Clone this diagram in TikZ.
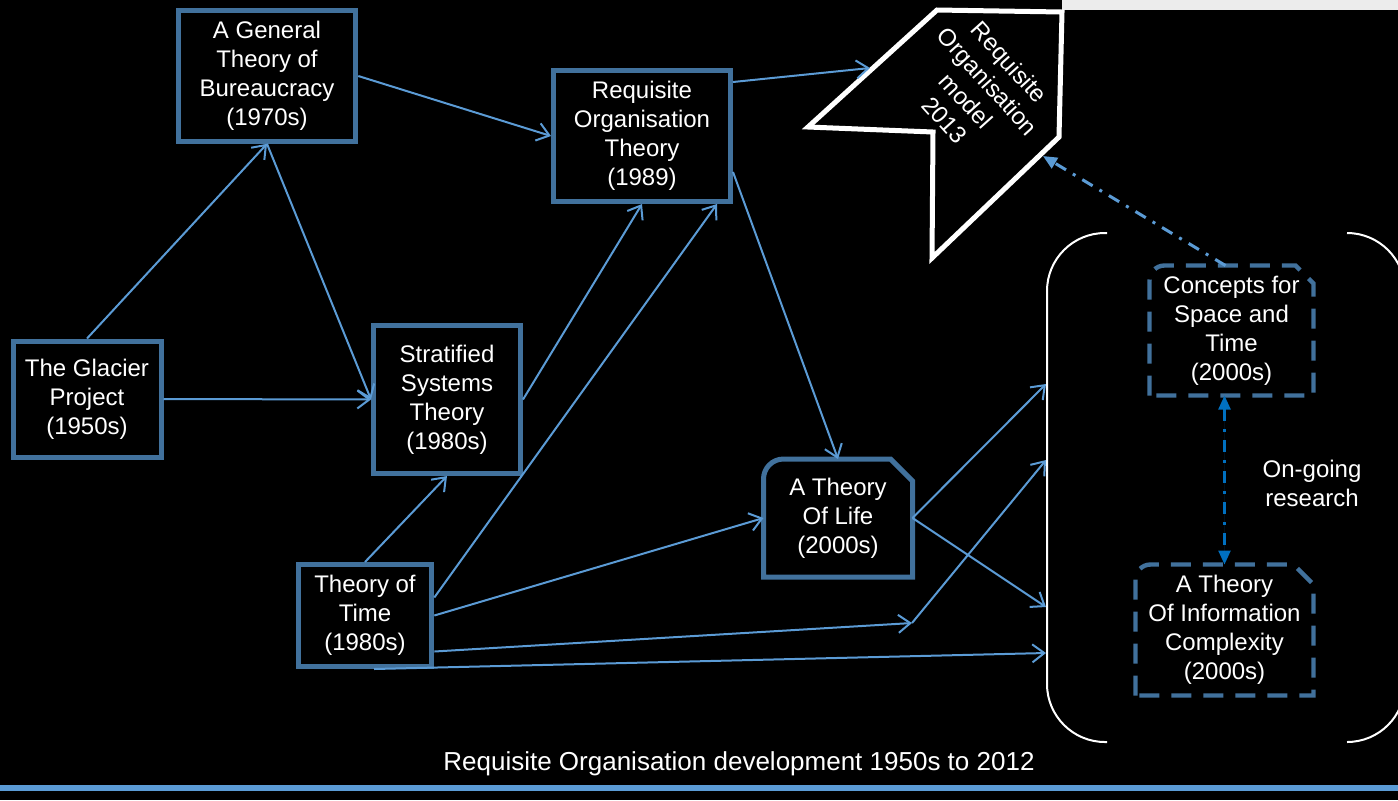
\documentclass[tikz,border=0pt]{standalone}
\usepackage{fontspec}
\setmainfont{Liberation Sans}
\usetikzlibrary{arrows.meta}
\definecolor{boxblue}{RGB}{65,113,156}
\definecolor{linkblue}{RGB}{91,155,213}
\definecolor{darkblue}{RGB}{0,112,192}
\definecolor{stripgray}{RGB}{236,236,236}
\tikzset{
	every node/.style={text=white, align=center, font=\fontsize{12}{14.5}\selectfont}, % white slide text
	theory/.style={draw=boxblue, line width=2.5pt, inner sep=0pt}, % the solid boxes
	bare/.style={inner sep=0pt, outer sep=0pt}, % boxes whose outline is drawn by hand
	outline/.style={draw=boxblue, line width=2.5pt}, % snipped and rounded outline
	dashline/.style={draw=boxblue, line width=2.2pt, dash pattern=on 10pt off 6pt}, % the research boxes
	link/.style={draw=linkblue, line width=1pt, -{Straight Barb[length=6pt,width=9pt]}}, % the arrows
	dashdot/.style={line width=1.5pt, dash pattern=on 6pt off 4pt on 1.5pt off 4pt}, % dash dot arrows
}
\begin{document}
\begin{tikzpicture}[x=0.5pt, y=-0.5pt]
	\useasboundingbox (0,0) rectangle (1398,800);
	\clip (0,0) rectangle (1398,800);
	\fill[black] (0,0) rectangle (1398,800);
	\fill[stripgray] (1062,0) rectangle (1398,10);
	\fill[linkblue] (0,785) rectangle (1398,791);

	% theory boxes
	\node[theory, minimum width=74pt, minimum height=58pt] (glacier) at (87,399) {The Glacier\\Project\\(1950s)};
	\node[theory, minimum width=88.8pt, minimum height=65.3pt] (general) at (267,76) {A General\\Theory of\\Bureaucracy\\(1970s)};
	\node[theory, minimum width=88.5pt, minimum height=65.5pt] (reqorg) at (642,136) {Requisite\\Organisation\\Theory\\(1989)};
	\node[theory, minimum width=73.5pt, minimum height=74pt] (strat) at (447,399.5) {Stratified\\Systems\\Theory\\(1980s)};
	\node[theory, minimum width=66.8pt, minimum height=51pt] (time) at (365,615.5) {Theory of\\Time\\(1980s)};
	\node[bare, minimum width=74.5pt, minimum height=59pt] (life) at (838,518) {A Theory\\Of Life\\(2000s)};
	\draw[outline] (life.south west) -- ([yshift=-10pt]life.north west) arc[start angle=180, end angle=90, radius=10pt]
		-- ([xshift=-11pt]life.north east) -- ([yshift=-11pt]life.north east) -- (life.south east) -- cycle;

	% on-going research
	\node[bare, minimum width=82pt, minimum height=65pt] (concepts) at (1231.5,330.5) {Concepts for\\Space and\\Time\\(2000s)};
	\draw[dashline] (concepts.south west) -- ([yshift=-7.5pt]concepts.north west) arc[start angle=180, end angle=90, radius=7.5pt]
		-- ([xshift=-9pt]concepts.north east) -- ([yshift=-9pt]concepts.north east) -- (concepts.south east) -- cycle;
	\node[bare, minimum width=89pt, minimum height=65.5pt] (info) at (1224.5,630) {A Theory\\Of Information\\Complexity\\(2000s)};
	\draw[dashline] (info.south west) -- ([yshift=-7.5pt]info.north west) arc[start angle=180, end angle=90, radius=7.5pt]
		-- ([xshift=-10pt]info.north east) -- ([yshift=-10pt]info.north east) -- (info.south east) -- cycle;
	\node (ongoing) at (1312,483) {On-going\\research};
	\draw[white, line width=1pt, rounded corners=29pt] (1107,233) -- (1047,233) -- (1047,742) -- (1107,742);
	\draw[white, line width=1pt, rounded corners=29pt] (1347,233) -- (1405,233) -- (1405,742) -- (1347,742);

	% the 2013 model
	\draw[white, fill=black, line width=2.5pt] (937,10) -- (1062,12) -- (1059,137) -- (932,258) -- (933,132) -- (808,127) -- cycle;
	\node[rotate=-48] (model) at (977,91) {Requisite\\Organisation\\model\\2013};
	\coordinate (modelin) at (870,68);
	\coordinate (modelback) at (1043,156);

	% free ends on the bracket
	\coordinate (bend) at (912,623);
	\coordinate (ra) at (1046,384);
	\coordinate (rb) at (1046,460);
	\coordinate (rc) at (1046,607);
	\coordinate (rd) at (1046,653);

	\path[every edge/.style=link] (glacier.north) edge (general.south)
		(general.south) edge (strat.west)
		(glacier.east) edge (strat.west)
		(general.east) edge (reqorg.west)
		([yshift=-7pt]reqorg.north east) edge (modelin)
		(strat.east) edge (reqorg.south)
		([yshift=9pt]time.east) edge ([xshift=-8pt]reqorg.south east)
		(time.north) edge (strat.south)
		([yshift=-18pt]reqorg.east) edge (life.north)
		(time.east) edge (life.west)
		([yshift=-18pt]time.east) edge (bend)
		(bend) edge (rb)
		(life.east) edge (ra)
		(life.east) edge (rc)
		([xshift=4.5pt]time.south) edge (rd);

	\draw[dashdot, draw=linkblue, -{Triangle[length=7pt,width=6pt]}] ([xshift=-3pt]concepts.north) -- (modelback);
	\draw[dashdot, line width=1.2pt, draw=darkblue, fill=darkblue, {Triangle[length=7pt,width=6pt]}-{Triangle[length=7pt,width=6pt]}] (concepts.south -| info.north) -- (info.north);

	\node[font=\fontsize{13}{15}\selectfont] (caption) at (739,764) {Requisite Organisation development 1950s to 2012};
\end{tikzpicture}
\end{document}
